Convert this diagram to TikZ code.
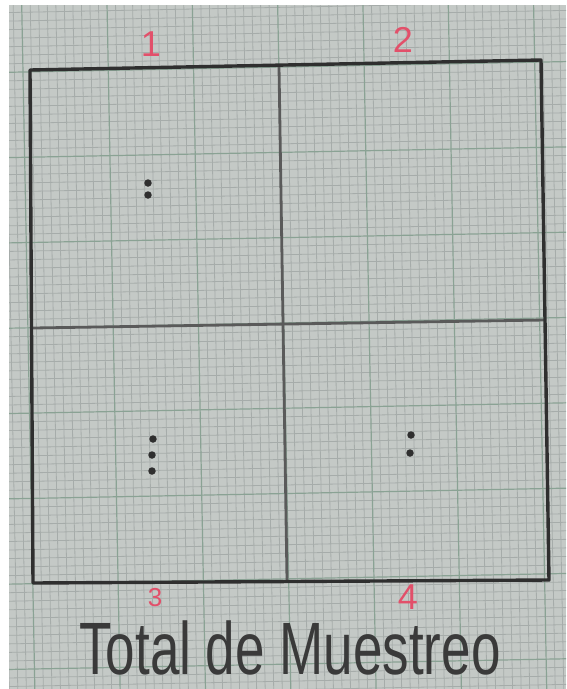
\documentclass[tikz,border=0pt]{standalone}
\usepackage{fontspec}
\setmainfont{Liberation Sans}
\definecolor{paper}{HTML}{C4C9C6}
\definecolor{minorln}{HTML}{A6ACAA}
\definecolor{majorln}{HTML}{8AA294}
\definecolor{pencil}{HTML}{2F2F2F}
\definecolor{pencilmid}{HTML}{5A5A5A}
\definecolor{titleink}{HTML}{3A3A3A}
\definecolor{redink}{HTML}{E2506A}
\tikzset{
  minorgrid/.style={draw=minorln,line width=0.8pt},
  majorgrid/.style={draw=majorln,line width=1.2pt},
  boxline/.style={draw=pencil,line width=3.4pt,line join=round,line cap=round},
  midline/.style={draw=pencilmid,line width=2.8pt,line cap=round},
  lab/.style={text=redink,font=\fontsize{36}{36}\selectfont,inner sep=0pt},
  smalllab/.style={text=redink,font=\fontsize{26}{26}\selectfont,inner sep=0pt},
  titletext/.style={text=titleink,inner sep=0pt},
  dotnode/.style={circle,fill=pencil,inner sep=0pt,minimum size=7.5pt}
}
\begin{document}
\begin{tikzpicture}[x=1pt,y=-1pt]
\useasboundingbox (0,0) rectangle (566,689);
\fill[white] (0,0) rectangle (566,689);
\fill[paper] (9,5) rectangle (566,689);
\begin{scope}
  \clip (9,5) rectangle (566,689);
  \begin{scope}[shift={(23,72)},rotate=1.1]
    \foreach \i in {-10,...,75} {
      \pgfmathtruncatemacro\m{mod(\i+100,10)}
      \ifnum\m=0\relax\else
        \draw[minorgrid] (-60,\i*8.53) -- (620,\i*8.53);
      \fi
    }
    \foreach \i in {-6,...,66} {
      \pgfmathtruncatemacro\m{mod(\i+100,10)}
      \ifnum\m=0\relax\else
        \draw[minorgrid] (\i*8.53,-120) -- (\i*8.53,720);
      \fi
    }
    \foreach \i in {-10,0,...,70} {
      \draw[majorgrid] (-60,\i*8.53) -- (620,\i*8.53);
    }
    \foreach \i in {0,10,...,60} {
      \draw[majorgrid] (\i*8.53,-120) -- (\i*8.53,720);
    }
  \end{scope}
\end{scope}
% box
\coordinate (tl) at (30,70);
\coordinate (tr) at (541,60);
\coordinate (br) at (549,580);
\coordinate (bl) at (33,583);
\coordinate (mt) at (279,66);
\coordinate (mb) at (287,580);
\coordinate (ml) at (33,328);
\coordinate (mr) at (545,320);
\draw[midline] (ml) -- (mr);
\draw[midline] (mt) -- (mb);
\draw[boxline] (tl) -- (tr) -- (br) -- (bl) -- cycle;
% labels
\node[lab] (n1) at (151,44) {1};
\node[lab] (n2) at (403,40) {2};
\node[smalllab] (n3) at (155,598) {3};
\node[lab] (n4) at (408,597) {4};
% dots
\node[dotnode] (a1) at (148,183) {};
\node[dotnode] (a2) at (148,195) {};
\node[dotnode] (c1) at (153,439) {};
\node[dotnode] (c2) at (152,455) {};
\node[dotnode] (c3) at (152,471) {};
\node[dotnode] (d1) at (411,435) {};
\node[dotnode] (d2) at (410,453) {};
% title
\node[titletext] (title) at (290,648) {\scalebox{1}[1.4]{\fontsize{53}{53}\selectfont Total de Muestreo}};
\end{tikzpicture}
\end{document}
